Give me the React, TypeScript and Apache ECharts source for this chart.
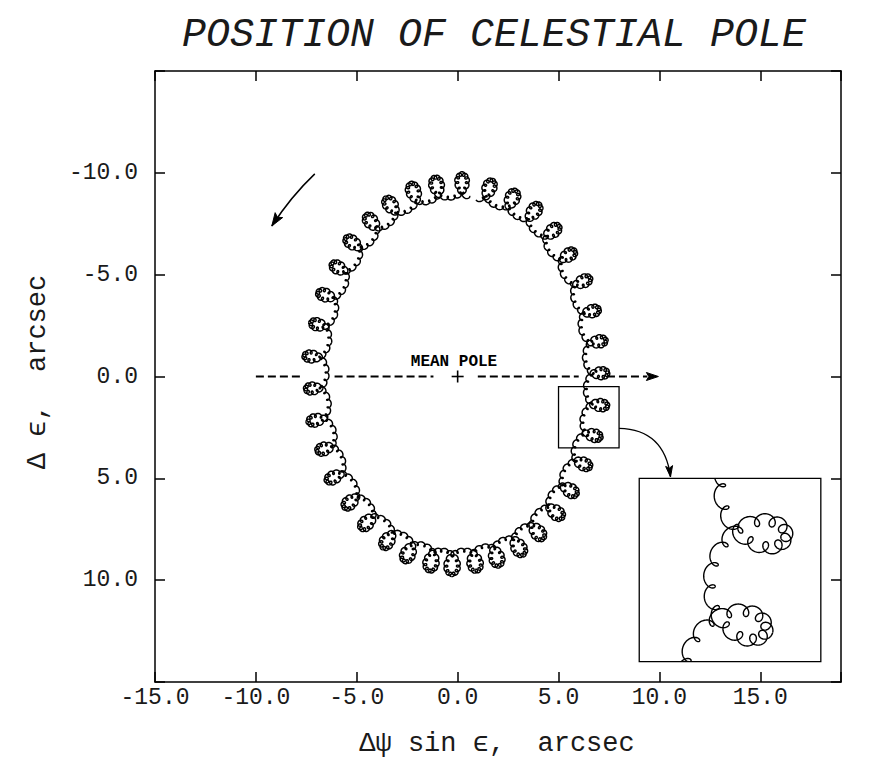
import React, { useEffect, useRef } from 'react';
import * as echarts from 'echarts';

// ---- data (arc-seconds) ----
// centres of the semi-annual loops, in the order the pole travels (from the top, towards the left)
const LOOP_X = [0.20, -1.04, -2.15, -3.30, -4.23, -5.17, -5.83, -6.49, -6.82, -7.15, -7.07, -6.95, -6.52, -6.08, -5.25, -4.47, -3.43, -2.44, -1.28, -0.29, 0.86, 1.90, 3.01, 3.92, 4.83, 5.49, 6.15, 6.65, 6.97, 6.97, 6.89, 6.56, 6.15, 5.41, 4.66, 3.75, 2.68, 1.57];
const LOOP_Y = [-9.48, -9.32, -9.04, -8.37, -7.58, -6.54, -5.31, -3.97, -2.54, -0.97, 0.58, 2.14, 3.52, 4.92, 6.15, 7.13, 8.03, 8.65, 9.09, 9.25, 9.09, 8.85, 8.36, 7.62, 6.64, 5.57, 4.26, 2.87, 1.40, -0.16, -1.71, -3.18, -4.65, -5.92, -7.11, -8.09, -8.70, -9.19];

const X_RANGE = [-15, 19];
const Y_RANGE = [-15, 15];
const TICK_STEP = 5;
const X_LABEL_MAX = 15;
const Y_LABEL_MAX = 10;

const MEAN_POLE = [0, 0];
const MEAN_POLE_LABEL = 'MEAN POLE';
const MEAN_POLE_LABEL_AT = [-0.18, -0.73];
const DASH_SEGMENTS = [[-10, -7.8], [-6.1, -1.2], [1.0, 6.0], [7.4, 9.4]];
const DASH_TIP = [9.95, 0];
const ROTATION_ARROW = [[-7.08, -9.95], [-8.25, -8.85], [-9.21, -7.39]];
const ZOOM_SOURCE = [5, 8, 0.5, 3.5];
const ZOOM_TARGET = [9, 18, 5, 14];
const ZOOM_ARROW = [[8.0, 2.55], [10.25, 2.6], [10.55, 4.93]];
const INSET_LOOPS = [25, 26, 27, 28, 29];

const TITLE = 'POSITION OF CELESTIAL POLE';
const X_NAME = 'Δψ sin ϵ,  arcsec';
const Y_NAME = 'Δ ϵ,  arcsec';

// ---- glyph shape of the looping path (style) ----
const SEMI_R = 0.56;
const FORT_R = 0.1;
const FORT_RATIO = 13.37;
const LOOP_CENTER_SHIFT = 0.15;
const TOP_GAP = [0.45, 0.55];

const GRID = { left: 155, top: 71, width: 686, height: 611 };
const MONO = '"Liberation Mono", "DejaVu Sans Mono", monospace';
const INK = '#1a1a1a';

function frameAt(k: number) {
  const n = LOOP_X.length;
  const kp = (k - 1 + n) % n;
  const kn = (k + 1) % n;
  let tx = LOOP_X[kn] - LOOP_X[kp];
  let ty = LOOP_Y[kn] - LOOP_Y[kp];
  const len = Math.hypot(tx, ty) || 1;
  tx /= len; ty /= len;
  let nx = -ty, ny = tx;
  if (nx * (LOOP_X[k] - MEAN_POLE[0]) + ny * (LOOP_Y[k] - MEAN_POLE[1]) < 0) { nx = -nx; ny = -ny; }
  return { tx, ty, nx, ny };
}

function makeCurveRenderer(lineWidth: number, pointsPerSeg: number) {
  return (params: any, api: any) => {
    const i = api.value(2);
    const n = LOOP_X.length;
    const j = (i + 1) % n;
    const fi = frameAt(i), fj = frameAt(j);
    const ranges = i === n - 1 ? [[0, TOP_GAP[0]], [TOP_GAP[1], 1]] : [[0, 1]];
    const children = ranges.map(([u0, u1]) => {
      const pts: number[][] = [];
      const steps = Math.max(2, Math.round(pointsPerSeg * (u1 - u0)));
      for (let s = 0; s <= steps; s++) {
        const u = u0 + ((u1 - u0) * s) / steps;
        const th = 2 * Math.PI * u;
        let tx = fi.tx + (fj.tx - fi.tx) * u, ty = fi.ty + (fj.ty - fi.ty) * u;
        const tl = Math.hypot(tx, ty) || 1; tx /= tl; ty /= tl;
        let nx = fi.nx + (fj.nx - fi.nx) * u, ny = fi.ny + (fj.ny - fi.ny) * u;
        const nl = Math.hypot(nx, ny) || 1; nx /= nl; ny /= nl;
        const bx = LOOP_X[i] + (LOOP_X[j] - LOOP_X[i]) * u - LOOP_CENTER_SHIFT * SEMI_R * nx;
        const by = LOOP_Y[i] + (LOOP_Y[j] - LOOP_Y[i]) * u - LOOP_CENTER_SHIFT * SEMI_R * ny;
        const ph = FORT_RATIO * th + 2 * Math.PI * FORT_RATIO * i;
        const sa = -Math.sin(th), ca = Math.cos(th);
        const sf = -Math.sin(ph), cf = Math.cos(ph);
        const x = bx + SEMI_R * (sa * tx + ca * nx) + FORT_R * (sf * tx + cf * nx);
        const y = by + SEMI_R * (sa * ty + ca * ny) + FORT_R * (sf * ty + cf * ny);
        pts.push(api.coord([x, y]));
      }
      return {
        type: 'polyline',
        shape: { points: pts },
        style: { stroke: '#000', lineWidth, fill: 'none', lineJoin: 'round' },
      };
    });
    return { type: 'group', children };
  };
}

function arrowHead(tip: number[], from: number[], len: number, half: number) {
  let dx = tip[0] - from[0], dy = tip[1] - from[1];
  const l = Math.hypot(dx, dy) || 1; dx /= l; dy /= l;
  const bx = tip[0] - dx * len, by = tip[1] - dy * len;
  const px = -dy, py = dx;
  return {
    type: 'polygon',
    shape: { points: [tip, [bx + px * half, by + py * half], [tip[0] - dx * len * 0.8, tip[1] - dy * len * 0.8], [bx - px * half, by - py * half]] },
    style: { fill: '#000', stroke: '#000', lineWidth: 1 },
  };
}

function decorRenderer(params: any, api: any) {
  const c = (p: number[]) => api.coord(p);
  const ch: any[] = [];
  DASH_SEGMENTS.forEach((seg) => {
    const a = c([seg[0], MEAN_POLE[1]]), b = c([seg[1], MEAN_POLE[1]]);
    ch.push({ type: 'line', shape: { x1: a[0], y1: a[1], x2: b[0], y2: b[1] }, style: { stroke: '#000', lineWidth: 1.8, lineDash: [8, 4] } });
  });
  const lastSeg = DASH_SEGMENTS[DASH_SEGMENTS.length - 1];
  ch.push(arrowHead(c(DASH_TIP), c([lastSeg[0], DASH_TIP[1]]), 12, 4));

  const mp = c(MEAN_POLE);
  ch.push({ type: 'line', shape: { x1: mp[0] - 6, y1: mp[1], x2: mp[0] + 6, y2: mp[1] }, style: { stroke: '#000', lineWidth: 1.6 } });
  ch.push({ type: 'line', shape: { x1: mp[0], y1: mp[1] - 6, x2: mp[0], y2: mp[1] + 6 }, style: { stroke: '#000', lineWidth: 1.6 } });
  const lp = c(MEAN_POLE_LABEL_AT);
  ch.push({ type: 'text', x: lp[0], y: lp[1], style: { text: MEAN_POLE_LABEL, fill: '#000', fontSize: 16, fontWeight: 'bold', fontFamily: MONO, align: 'center', verticalAlign: 'middle' } });

  const r0 = c(ROTATION_ARROW[0]), r1 = c(ROTATION_ARROW[1]), r2 = c(ROTATION_ARROW[2]);
  ch.push({ type: 'bezierCurve', shape: { x1: r0[0], y1: r0[1], cpx1: r1[0], cpy1: r1[1], x2: r2[0], y2: r2[1] }, style: { stroke: '#000', lineWidth: 1.5, fill: 'none' } });
  ch.push(arrowHead(r2, r1, 13, 4.5));

  [ZOOM_SOURCE, ZOOM_TARGET].forEach((b) => {
    const p1 = c([b[0], b[2]]), p2 = c([b[1], b[3]]);
    ch.push({ type: 'rect', shape: { x: Math.min(p1[0], p2[0]), y: Math.min(p1[1], p2[1]), width: Math.abs(p2[0] - p1[0]), height: Math.abs(p2[1] - p1[1]) }, style: { stroke: '#000', lineWidth: 1.3, fill: 'none' } });
  });

  const z0 = c(ZOOM_ARROW[0]), z1 = c(ZOOM_ARROW[1]), z2 = c(ZOOM_ARROW[2]);
  ch.push({ type: 'bezierCurve', shape: { x1: z0[0], y1: z0[1], cpx1: z1[0], cpy1: z1[1], x2: z2[0], y2: z2[1] }, style: { stroke: '#000', lineWidth: 1.3, fill: 'none' } });
  ch.push(arrowHead(z2, z1, 11, 3.5));
  return { type: 'group', children: ch };
}

export default function App() {
  const ref = useRef<HTMLDivElement>(null);
  useEffect(() => {
    if (!ref.current) return;
    const chart = echarts.init(ref.current, undefined, { renderer: 'svg' });
    const xSpan = X_RANGE[1] - X_RANGE[0];
    const ySpan = Y_RANGE[1] - Y_RANGE[0];
    const inset = {
      left: GRID.left + ((ZOOM_TARGET[0] - X_RANGE[0]) / xSpan) * GRID.width,
      top: GRID.top + ((ZOOM_TARGET[2] - Y_RANGE[0]) / ySpan) * GRID.height,
      width: ((ZOOM_TARGET[1] - ZOOM_TARGET[0]) / xSpan) * GRID.width,
      height: ((ZOOM_TARGET[3] - ZOOM_TARGET[2]) / ySpan) * GRID.height,
    };
    const axisLine = { show: true, onZero: false, lineStyle: { color: '#000', width: 1.5 } };
    const axisTick = { show: true, inside: true, length: 10, lineStyle: { color: '#000', width: 1.5 } };
    const labelStyle = { color: INK, fontFamily: MONO, fontSize: 23 };
    const xFmt = (v: number) => (Math.abs(v % TICK_STEP) < 1e-9 && v <= X_LABEL_MAX ? v.toFixed(1) : '');
    const yFmt = (v: number) => (Math.abs(v) <= Y_LABEL_MAX ? v.toFixed(1) : '');

    const option: any = {
      animation: false,
      backgroundColor: '#fff',
      grid: [
        { left: GRID.left, top: GRID.top, width: GRID.width, height: GRID.height, show: false },
        { left: inset.left, top: inset.top, width: inset.width, height: inset.height, show: false },
      ],
      xAxis: [
        { gridIndex: 0, type: 'value', position: 'bottom', min: X_RANGE[0], max: X_RANGE[1], interval: TICK_STEP, axisLine, axisTick, splitLine: { show: false }, axisLabel: { ...labelStyle, margin: 4, formatter: xFmt } },
        { gridIndex: 0, type: 'value', position: 'top', min: X_RANGE[0], max: X_RANGE[1], interval: TICK_STEP, axisLine, axisTick, splitLine: { show: false }, axisLabel: { show: false } },
        { gridIndex: 1, type: 'value', min: ZOOM_SOURCE[0], max: ZOOM_SOURCE[1], show: false },
      ],
      yAxis: [
        { gridIndex: 0, type: 'value', position: 'left', inverse: true, min: Y_RANGE[0], max: Y_RANGE[1], interval: TICK_STEP, axisLine, axisTick, splitLine: { show: false }, axisLabel: { ...labelStyle, margin: 17, formatter: yFmt } },
        { gridIndex: 0, type: 'value', position: 'right', inverse: true, min: Y_RANGE[0], max: Y_RANGE[1], interval: TICK_STEP, axisLine, axisTick, splitLine: { show: false }, axisLabel: { show: false } },
        { gridIndex: 1, type: 'value', inverse: true, min: ZOOM_SOURCE[2], max: ZOOM_SOURCE[3], show: false },
      ],
      graphic: [
        { type: 'text', x: 494, y: 35, style: { text: TITLE, fill: INK, fontSize: 40, fontStyle: 'italic', fontFamily: MONO, align: 'center', verticalAlign: 'middle' } },
        { type: 'text', x: 497, y: 744, style: { text: X_NAME, fill: INK, fontSize: 27, fontFamily: MONO, align: 'center', verticalAlign: 'middle' } },
        { type: 'text', x: 38, y: 372, rotation: Math.PI / 2, style: { text: Y_NAME, fill: INK, fontSize: 27, fontFamily: MONO, align: 'center', verticalAlign: 'middle' } },
      ],
      series: [
        {
          type: 'custom', name: 'pole path', xAxisIndex: 0, yAxisIndex: 0, silent: true,
          renderItem: makeCurveRenderer(1.45, 300),
          data: LOOP_X.map((x, i) => [x, LOOP_Y[i], i]),
        },
        {
          type: 'custom', name: 'decor', xAxisIndex: 0, yAxisIndex: 0, silent: true,
          renderItem: decorRenderer,
          data: [[MEAN_POLE[0], MEAN_POLE[1]]],
        },
        {
          type: 'custom', name: 'inset path', xAxisIndex: 2, yAxisIndex: 2, silent: true, clip: true,
          renderItem: makeCurveRenderer(1.4, 700),
          data: INSET_LOOPS.map((i) => [LOOP_X[i], LOOP_Y[i], i]),
        },
      ],
    };
    chart.setOption(option);
    return () => chart.dispose();
  }, []);
  return <div ref={ref} style={{ position: 'absolute', left: 0, top: 0, width: 873, height: 759 }} />;
}
